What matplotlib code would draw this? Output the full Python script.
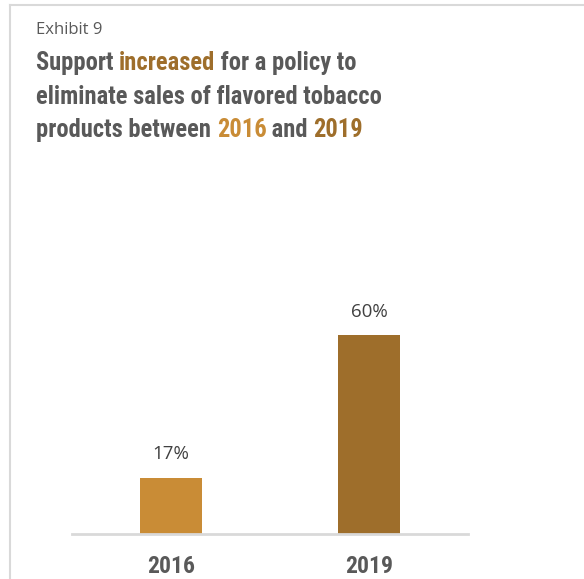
import matplotlib.pyplot as plt
from matplotlib.lines import Line2D
from matplotlib.text import Annotation

years = ["2016", "2019"]
support = [17, 60]
bar_colors = ["#c98c36", "#9e6e2b"]

title_lines = [
    [("Support ", "#595959"), ("increased", "#9e6e2b"), (" for a policy to", "#595959")],
    [("eliminate sales of flavored tobacco", "#595959")],
    [("products between ", "#595959"), ("2016", "#c98c36"), (" and ", "#595959"), ("2019", "#9e6e2b")],
]

W, H = 584, 579
fig = plt.figure(figsize=(W / 100, H / 100), dpi=100)
fig.patch.set_facecolor("white")

cond = ["Roboto Condensed", "DejaVu Sans"]
body = ["Open Sans", "DejaVu Sans"]

# frame lines along the top and left edge
fig.add_artist(Line2D([10 / W, 1], [1 - 5 / H, 1 - 5 / H], color="#d9d9d9", lw=1.5))
fig.add_artist(Line2D([10 / W, 10 / W], [0, 1 - 5 / H], color="#d9d9d9", lw=1.5))

fig.text(36 / W, 1 - 30 / H, "Exhibit 9", family=body, fontsize=12,
         color="#595959", va="center", ha="left")

# headline size chosen so the longest line spans ~346 px
renderer = fig.canvas.get_renderer()
probe = fig.text(0, 0, title_lines[1][0][0], family=cond, fontweight="bold", fontsize=19)
tsize = 19 * 346 / probe.get_window_extent(renderer).width
probe.remove()

# multi-coloured headline, pieces chained one after another
line_y = [63, 97, 130]
for y, pieces in zip(line_y, title_lines):
    prev = None
    for txt, col in pieces:
        if prev is None:
            prev = fig.text(36 / W, 1 - y / H, txt, family=cond, fontweight="bold",
                            fontsize=tsize, color=col, va="center", ha="left")
        else:
            prev = fig.add_artist(Annotation(txt, xy=(1, 0), xycoords=prev,
                                             va="bottom", ha="left", color=col,
                                             family=cond, fontweight="bold",
                                             fontsize=tsize))

ax = fig.add_axes([72 / W, 45 / H, 396 / W, 332 / H])
x = range(len(years))
bars = ax.bar(x, support, width=0.315, color=bar_colors)
ax.set_xlim(-0.5, 1.5)
ax.set_ylim(0, 100)

for rect, val in zip(bars, support):
    ax.text(rect.get_x() + rect.get_width() / 2, val + 7, f"{val}%",
            ha="center", va="center", family=body, fontsize=13.5, color="#404040")

ax.set_xticks(list(x))
ax.set_xticklabels(years, family=cond, fontweight="bold", fontsize=17, color="#595959")
ax.tick_params(axis="x", length=0, pad=15)
ax.set_yticks([])
for side in ["top", "right", "left"]:
    ax.spines[side].set_visible(False)
ax.spines["bottom"].set_color("#d9d9d9")
ax.spines["bottom"].set_linewidth(2)

fig.savefig("out.png", dpi=100)
